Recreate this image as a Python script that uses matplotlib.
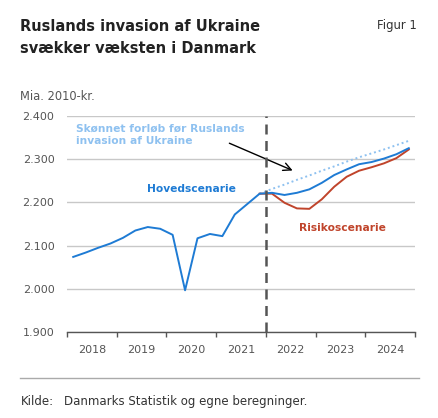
import numpy as np
import matplotlib
matplotlib.use("Agg")
import matplotlib.pyplot as plt

# Quarterly GDP, mia. 2010-kr., 2018Q1 - 2024Q4
years = ["2018", "2019", "2020", "2021", "2022", "2023", "2024"]
hoved = [2074, 2084, 2095, 2105, 2118, 2135, 2143, 2139, 2125, 1997,
         2117, 2127, 2122, 2172, 2196, 2220,
         2222, 2217, 2222, 2230, 2245, 2263, 2276, 2288, 2293, 2301, 2311, 2325]
# risk scenario and pre-invasion forecast start at 2021Q4 (index 15)
risiko = [2220, 2220, 2199, 2186, 2185, 2207, 2236, 2259, 2273, 2281, 2290, 2302, 2322]
skoen = [2220, 2231, 2241, 2252, 2262, 2273, 2283, 2294, 2304, 2313, 2322, 2332, 2342]

BLUE = "#1e7bd4"
RED = "#c0442b"
LIGHT = "#8ec1f0"
GREY = "#555555"

plt.rcParams['font.family'] = ['DejaVu Sans']

fig = plt.figure(figsize=(4.39, 4.18), dpi=100)
ax = fig.add_axes([67 / 439, 1 - 332.3 / 418, 348 / 439, 216.6 / 418])

x_all = np.arange(len(hoved))
x_fc = np.arange(15, 15 + len(risiko))

ax.plot(x_fc, skoen, color=LIGHT, lw=1.4, linestyle=(0, (1, 1.5)), zorder=3)
ax.plot(x_fc, risiko, color=RED, lw=1.4, zorder=4)
ax.plot(x_all, hoved, color=BLUE, lw=1.4, zorder=5)

ax.axvline(15.5, color=GREY, lw=1.8, dashes=(4, 2.6), zorder=6)

ax.set_xlim(-0.5, 27.5)
ax.set_ylim(1900, 2400)
ax.set_yticks([1900, 2000, 2100, 2200, 2300, 2400])
ax.set_yticklabels(["1.900", "2.000", "2.100", "2.200", "2.300", "2.400"])
ax.yaxis.grid(True, color="#c8c8c8", lw=1)
ax.set_axisbelow(True)

ax.set_xticks(np.arange(-0.5, 28, 4))
ax.set_xticklabels([])
ax.set_xticks(np.arange(1.5, 28, 4), minor=True)
ax.set_xticklabels(years, minor=True)
ax.tick_params(axis="x", which="major", length=3.5, color=GREY, width=1)
ax.tick_params(axis="x", which="minor", length=0, pad=9, labelsize=8, labelcolor=GREY)
ax.tick_params(axis="y", length=0, pad=9, labelsize=8, labelcolor=GREY)

for s in ["top", "right", "left"]:
    ax.spines[s].set_visible(False)
ax.spines["bottom"].set_color(GREY)
ax.spines["bottom"].set_linewidth(1)

ax.text(0.23, 2355, "Skønnet forløb før Ruslands\ninvasion af Ukraine", color=LIGHT,
        fontsize=7.7, fontweight="bold", ha="left", va="center", linespacing=1.3)
ax.annotate("", xy=(17.86, 2271), xytext=(12.36, 2339),
            arrowprops=dict(arrowstyle="->", color="black", lw=1, mutation_scale=14))
ax.text(5.94, 2231, "Hovedscenarie", color=BLUE, fontsize=7.7, fontweight="bold",
        ha="left", va="center")
ax.text(18.18, 2141, "Risikoscenarie", color=RED, fontsize=7.7, fontweight="bold",
        ha="left", va="center")

# titles and footer
fig.text(20.5 / 439, 1 - 37.3 / 418, "Ruslands invasion af Ukraine\nsvækker væksten i Danmark",
         fontsize=10.5, fontweight="bold", color="#222222", ha="left", va="center",
         linespacing=1.62)
fig.text(417 / 439, 1 - 25 / 418, "Figur 1", fontsize=8.4, color="#333333", ha="right", va="center")
fig.text(20.5 / 439, 1 - 96 / 418, "Mia. 2010-kr.", fontsize=8.3, color=GREY, ha="left", va="center")
fig.add_artist(plt.Line2D([20 / 439, 419 / 439], [1 - 378.3 / 418] * 2, color="#aaaaaa", lw=1))
fig.text(20.5 / 439, 1 - 405 / 418, "Kilde:", fontsize=8.5, color="#333333", ha="left", va="baseline")
fig.text(64 / 439, 1 - 405 / 418, "Danmarks Statistik og egne beregninger.", fontsize=8.5,
         color="#333333", ha="left", va="baseline")

fig.savefig("out.png", dpi=100)
